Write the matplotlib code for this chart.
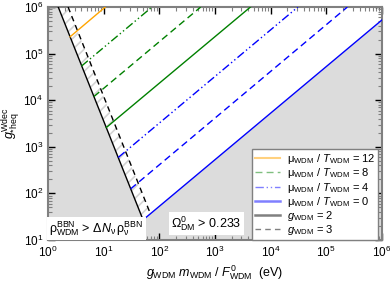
import numpy as np
import matplotlib
matplotlib.use('Agg')
from matplotlib import pyplot as plt
from matplotlib.lines import Line2D

plt.rcParams['font.family'] = 'Liberation Sans'
plt.rcParams['mathtext.fontset'] = 'custom'
plt.rcParams['mathtext.rm'] = 'Liberation Sans'
plt.rcParams['mathtext.it'] = 'Liberation Sans:italic'
plt.rcParams['font.size'] = 8

# coloured lines: start on the g=2 boundary, end at the frame
line_x0 = [2.5, 4.0, 6.7, 11.2, 18.3, 30.6, 51.2]
line_y0 = [2.3e5, 5.4e4, 1.2e4, 2.6e3, 590, 125, 27]
line_x1 = [10.7, 74, 555, 4350, 3.1e4, 2.4e5, 1e6]
line_y1 = [1e6, 1e6, 1e6, 1e6, 1e6, 1e6, 5.25e5]
line_col = ['orange', 'green', 'green', 'green', 'blue', 'blue', 'blue']
line_sty = ['-', (0, (6, 2, 1, 2, 1, 2)), (0, (5, 3)), '-',
            (0, (6, 2, 1, 2, 1, 2)), (0, (5, 3)), '-']

# BBN boundaries for g_WDM = 2 and 3
g2_x = [1.53, 51.2]
g2_y = [1e6, 27]
g3_x = [2.3, 69.4]
g3_y = [1e6, 36.4]

legend_labels = [r'$\mathrm{\mu_{WDM}}$ / $T_\mathrm{WDM}$ = 12',
                 r'$\mathrm{\mu_{WDM}}$ / $T_\mathrm{WDM}$ = 8',
                 r'$\mathrm{\mu_{WDM}}$ / $T_\mathrm{WDM}$ = 4',
                 r'$\mathrm{\mu_{WDM}}$ / $T_\mathrm{WDM}$ = 0',
                 r'$g_\mathrm{WDM}$ = 2',
                 r'$g_\mathrm{WDM}$ = 3']

fig = plt.figure(figsize=(3.9, 2.82), dpi=100)
ax = fig.add_axes([0.123, 0.149, 0.856, 0.826])
ax.set_xscale('log')
ax.set_yscale('log')
ax.set_xlim(1, 1e6)
ax.set_ylim(10, 1e6)

# excluded (gray) region
gx = [1, 1, g2_x[0], g2_x[1], line_x1[-1], 1e6]
gy = [10, 1e6, g2_y[0], g2_y[1], line_y1[-1], 10]
ax.fill(gx, gy, color='#dcdcdc', lw=0, zorder=0)

# hatched strip between g=2 and g=3
hx = [g2_x[0], g3_x[0], g3_x[1], g2_x[1]]
hy = [g2_y[0], g3_y[0], g3_y[1], g2_y[1]]
plt.rcParams['hatch.color'] = '#d4d4d4'
plt.rcParams['hatch.linewidth'] = 1.2
ax.fill(hx, hy, facecolor='white', edgecolor='#d4d4d4', hatch='///', lw=0, zorder=1)

ax.plot(g2_x, g2_y, color='black', lw=1, zorder=3)
ax.plot(g3_x, g3_y, color='black', lw=1, ls=(0, (4, 3)), zorder=3)

for i in range(len(line_x0)):
    ax.plot([line_x0[i], line_x1[i]], [line_y0[i], line_y1[i]],
            color=line_col[i], ls=line_sty[i], lw=1, zorder=4)

ax.text(1.06, 11.3, r'$\mathrm{\rho^{BBN}_{WDM}}$ > $\mathrm{\Delta}N_\mathrm{\nu}\,\mathrm{\rho^{BBN}_{\nu}}$',
        fontsize=9, va='bottom', ha='left', zorder=6,
        bbox=dict(facecolor='white', edgecolor='none', pad=1.5))
ax.text(165, 14, r'$\mathrm{\Omega^0_{DM}}$ > 0.233', fontsize=9, va='bottom', ha='left',
        zorder=6, bbox=dict(facecolor='white', edgecolor='none', pad=1.5))

handles = [Line2D([], [], color='orange', lw=1.5, alpha=0.5),
           Line2D([], [], color='green', lw=1, ls=(0, (5, 3)), alpha=0.5),
           Line2D([], [], color='blue', lw=1, ls=(0, (6, 2, 1, 2, 1, 2)), alpha=0.5),
           Line2D([], [], color='blue', lw=1.8, alpha=0.5),
           Line2D([], [], color='gray', lw=1.8),
           Line2D([], [], color='gray', lw=1, ls=(0, (4, 3)))]
leg = ax.legend(handles, legend_labels, loc='lower right', fontsize=8,
                fancybox=False, edgecolor='gray', framealpha=1,
                borderaxespad=0.0, handlelength=2.3, handletextpad=0.6,
                labelspacing=0.02, borderpad=0.25,
                bbox_to_anchor=(0.99, 0.0))
leg.get_frame().set_linewidth(1)
leg.set_zorder(7)

for s in ax.spines.values():
    s.set_color('gray')
    s.set_linewidth(1.5)
ax.tick_params(which='both', direction='in', top=True, right=True)
ax.tick_params(which='major', length=5, width=1, color='black', labelsize=8.5)
ax.tick_params(which='minor', length=3, width=0.8, color='gray')
ax.xaxis.set_major_locator(matplotlib.ticker.LogLocator(base=10, numticks=10))
ax.xaxis.set_minor_locator(matplotlib.ticker.LogLocator(base=10, subs=np.arange(2, 10), numticks=10))
ax.xaxis.set_minor_formatter(matplotlib.ticker.NullFormatter())
ax.yaxis.set_minor_formatter(matplotlib.ticker.NullFormatter())

ax.set_xlabel(r'$g_\mathrm{WDM}\ m_\mathrm{WDM}$ / $F^0_\mathrm{WDM}$  (eV)', fontsize=9, labelpad=2)
ax.set_ylabel(r'$g^\mathrm{Wdec}_\mathrm{*heq}$', fontsize=9, labelpad=1)

fig.savefig('out.png', dpi=100)
